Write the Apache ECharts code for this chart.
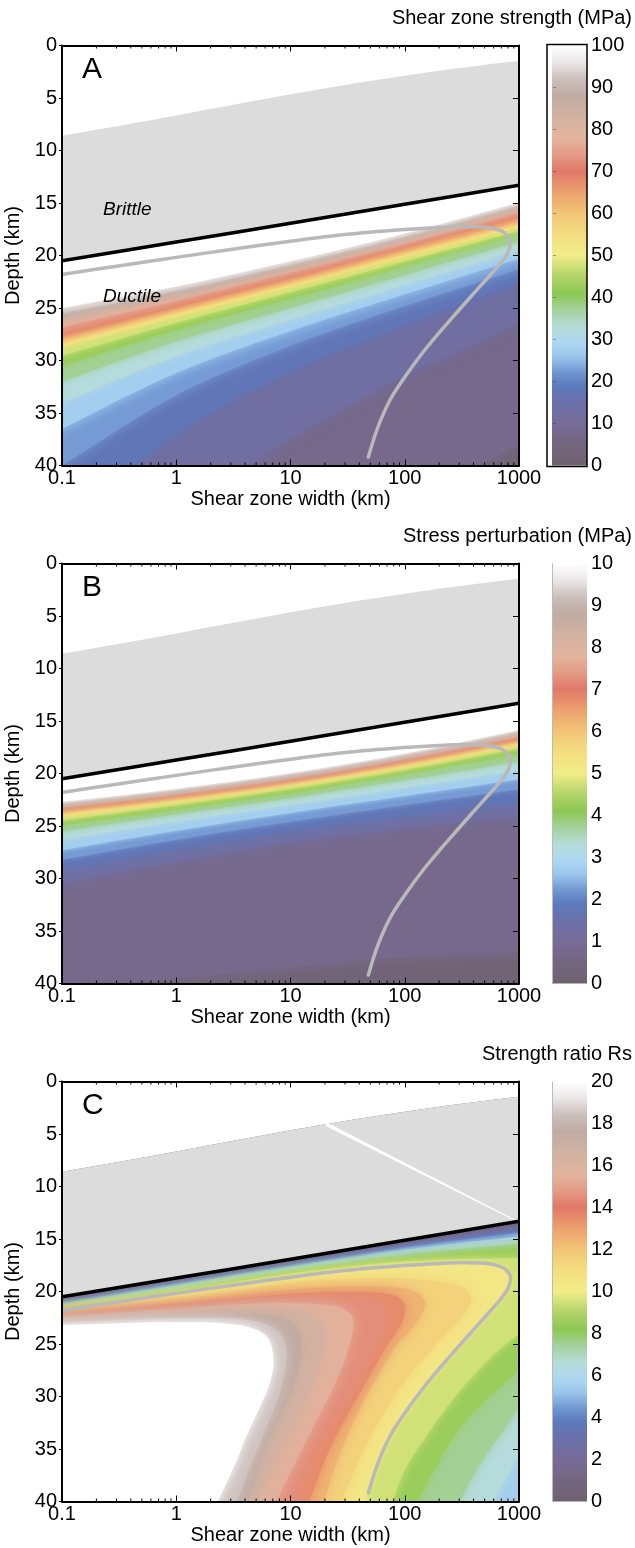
<!DOCTYPE html>
<html>
<head>
<meta charset="utf-8">
<script src="https://cdn.jsdelivr.net/npm/echarts@6/dist/echarts.min.js"></script>
<style>
html, body { margin: 0; padding: 0; background: #fff; }
#chart { width: 635px; height: 1548px; }
</style>
</head>
<body>
<div id="chart"></div>
<script>
// widths (km) at which the contour depths were read
var widths = [0.1, 1, 10, 100, 1000];

// brittle field: upper grey edge and brittle-ductile transition (depth km)
var topEdge = [[0.1, 8.6], [0.3, 7.68], [1, 6.66], [3, 5.7], [10, 4.65], [30, 3.76], [100, 2.88], [300, 2.15], [1000, 1.45]];
var bdt = [[0.1, 20.5], [1, 18.72], [10, 16.93], [100, 15.12], [1000, 13.3]];
// grey curve, same in all three panels
var greyCurve = [[0.1, 21.8], [0.3, 21.02], [1, 20.18], [3, 19.42], [10, 18.64], [30, 18.01], [100, 17.53], [200, 17.33],
  [350, 17.25], [550, 17.35], [720, 17.71], [820, 18.3], [845, 18.75], [805, 19.67], [703, 20.62], [541, 22.05],
  [404, 23.57], [288, 25.38], [206, 27.19], [145, 29.19], [101.5, 31.48], [74.3, 33.76], [57.8, 36.43], [48, 39.19]];
// white line in panel C
var whiteDiag = [[20.5, 4.05], [1000, 13.4]];

// panel A: shear zone strength (MPa), depth of each contour at the widths above
var levelsA = [5, 10, 15, 20, 25, 30, 35, 40, 45, 50, 55, 60, 65, 70, 75, 80, 85, 90, 95];
var depthsA = [
  [72, 60, 51, 44, 38],
  [56, 45, 37.5, 31.5, 26.5],
  [46, 37.0, 31.0, 26.6, 22.6],
  [40.0, 33.3, 28.6, 24.8, 21.3],
  [36.5, 31.2, 27.2, 23.7, 20.3],
  [34.0, 29.6, 26.1, 22.8, 19.5],
  [32.0, 28.2, 25.0, 21.85, 18.7],
  [30.5, 27.1, 24.1, 21.0, 18.0],
  [29.55, 26.4, 23.5, 20.55, 17.65],
  [28.7, 25.8, 23.0, 20.15, 17.3],
  [28.3, 25.45, 22.7, 19.8, 17.0],
  [28.0, 25.2, 22.45, 19.6, 16.75],
  [27.7, 24.95, 22.2, 19.3, 16.45],
  [27.3, 24.6, 21.9, 19.0, 16.1],
  [26.8, 24.3, 21.6, 18.85, 15.85],
  [26.3, 23.95, 21.35, 18.6, 15.6],
  [25.9, 23.65, 21.1, 18.4, 15.4],
  [25.5, 23.35, 20.85, 18.2, 15.2],
  [25.0, 22.95, 20.55, 17.9, 14.95]
];

// panel B: stress perturbation (MPa)
var levelsB = [0.5, 1, 1.5, 2, 2.5, 3, 3.5, 4, 4.5, 5, 5.5, 6, 6.5, 7, 7.5, 8, 8.5, 9, 9.5];
var depthsB = [
  [40.5, 39.5, 38.5, 37.5, 37],
  [30.5, 28.4, 26.6, 25.2, 24.1],
  [29.2, 27.2, 25.5, 24.0, 22.7],
  [28.2, 26.3, 24.6, 23.0, 21.5],
  [27.3, 25.45, 23.75, 22.15, 20.55],
  [26.3, 24.6, 23.0, 21.35, 19.7],
  [25.5, 23.9, 22.35, 20.65, 18.85],
  [24.9, 23.4, 21.85, 20.05, 18.1],
  [24.45, 23.0, 21.45, 19.65, 17.6],
  [24.1, 22.75, 21.2, 19.4, 17.3],
  [23.85, 22.55, 21.0, 19.2, 17.1],
  [23.65, 22.35, 20.85, 19.0, 16.9],
  [23.45, 22.2, 20.7, 18.85, 16.75],
  [23.3, 22.05, 20.6, 18.75, 16.6],
  [23.2, 21.95, 20.45, 18.6, 16.45],
  [23.1, 21.85, 20.35, 18.5, 16.3],
  [23.0, 21.75, 20.25, 18.4, 16.15],
  [22.85, 21.6, 20.1, 18.25, 16.0],
  [22.7, 21.45, 19.95, 18.1, 15.85]
];

// panel C: strength ratio Rs
// thin band under the transition
var levelsCstrip = [1, 2, 3, 4, 5];
var depthsCstrip = [
  [20.65, 18.85, 17.1, 15.25, 13.55],
  [20.8, 19.0, 17.25, 15.45, 13.8],
  [20.95, 19.15, 17.4, 15.65, 14.1],
  [21.1, 19.3, 17.55, 15.85, 14.4],
  [21.25, 19.45, 17.7, 16.05, 14.75]
];
// contours that leave the right edge and come back lower down
var levelsCsplit = [6, 7, 8, 9];
var depthsCsplitTop = [
  [21.4, 19.6, 17.85, 16.25, 15.1],
  [21.5, 19.75, 18.0, 16.5, 15.45],
  [21.6, 19.9, 18.15, 16.8, 15.85],
  [21.7, 20.05, 18.3, 17.15, 16.8]
];
var pathsCsplitRight = [
  [[1000, 35.5], [800, 37.5], [600, 40]],
  [[1000, 31], [700, 33.5], [450, 36.5], [300, 40]],
  [[1000, 27.5], [700, 29], [490, 30.5], [300, 33], [180, 37], [130, 40]],
  [[1000, 24], [600, 26], [300, 29.5], [160, 33.5], [100, 37], [78, 40]]
];
// contour 10 follows the grey curve; the rest bend down to the bottom
var levelsCcorner = [11, 12, 13, 14, 15, 16, 17, 18, 19];
var pathsCcorner = [
  [[0.1, 21.95], [1, 20.9], [10, 19.2], [40, 18.8], [150, 18.9], [320, 19.6], [380, 20.7], [320, 22.3], [190, 25], [100, 28.5], [58, 32.5], [38, 36.5], [28, 40]],
  [[0.1, 22.05], [1, 21.05], [10, 19.8], [40, 19.5], [110, 19.8], [150, 20.9], [130, 22.8], [80, 25.5], [46, 30], [28, 35], [19.5, 40]],
  [[0.1, 22.15], [1, 21.2], [10, 20.2], [40, 20.05], [80, 20.35], [100, 21.3], [95, 22.9], [67, 25.5], [39, 30], [22, 35], [14.6, 40]],
  [[0.1, 22.3], [1, 21.35], [7, 20.7], [27, 20.6], [53, 20.9], [68, 21.8], [67, 23.2], [53, 25.6], [35, 29.4], [19.4, 33.8], [13.8, 37], [11, 40]],
  [[0.1, 22.45], [1, 21.65], [7, 21.1], [25, 21.4], [35, 22.5], [33, 25], [24, 29], [14, 34], [7.5, 40]],
  [[0.1, 22.6], [1, 22.0], [7, 21.6], [16, 22.2], [20, 24], [18, 27], [13, 31], [8.5, 35], [5.2, 40]],
  [[0.1, 22.75], [1, 22.3], [6, 22.2], [11, 23.2], [12.5, 25.5], [11, 28.5], [8.5, 31.5], [6, 35], [4.2, 40]],
  [[0.1, 22.95], [1, 22.6], [4, 22.7], [7.5, 23.6], [9.2, 25.5], [8.8, 28], [7.3, 31], [5.6, 34], [4.3, 37], [3.4, 40]],
  [[0.1, 23.2], [1, 22.9], [3.6, 23.2], [6.2, 24.3], [7.1, 26.5], [6.6, 28.7], [5.4, 31], [4.1, 33.8], [3.2, 36.7], [2.3, 40]]
];

var cbTitles = ['Shear zone strength (MPa)', 'Stress perturbation (MPa)', 'Strength ratio Rs'];
var cbMax = [100, 10, 20];
var cbStep = [10, 1, 2];
var letters = ['A', 'B', 'C'];

// colour scale, 0 = bottom of the bar
var cmapStops = [
  [0, '#6e626e'], [0.05, '#736680'], [0.10, '#786b98'], [0.15, '#6a70aa'], [0.19, '#5c7abd'],
  [0.22, '#6f94d0'], [0.26, '#9cc5ec'], [0.29, '#acd6f2'], [0.33, '#b6dcd9'], [0.37, '#a5d19e'],
  [0.41, '#8dc853'], [0.45, '#b0d468'], [0.50, '#f1ed88'], [0.55, '#f4de80'], [0.60, '#f2c576'],
  [0.65, '#eca16e'], [0.70, '#e17868'], [0.74, '#e49b86'], [0.78, '#e3b49e'], [0.83, '#d2b2a1'],
  [0.88, '#c0aba2'], [0.92, '#cbbfbb'], [0.96, '#ebe7e8'], [1, '#ffffff']
];

var FONT = '"Liberation Sans", Arial, Helvetica, sans-serif';
var TOPS = [45.5, 563.5, 1081.5];
var XL = 0.05, XR = 2000, YT = -3, YB = 43;

function cmap(t) {
  t = Math.max(0, Math.min(1, t));
  for (var k = 1; k < cmapStops.length; k++) {
    if (t <= cmapStops[k][0]) {
      var a = cmapStops[k - 1], b = cmapStops[k];
      var f = (t - a[0]) / (b[0] - a[0]);
      var ca = echarts.color.parse(a[1]), cb = echarts.color.parse(b[1]);
      var c = [0, 1, 2].map(function (j) { return Math.round(ca[j] + (cb[j] - ca[j]) * f); });
      return 'rgb(' + c.join(',') + ')';
    }
  }
  return '#ffffff';
}

function toPath(ds) {
  return widths.map(function (w, i) { return [w, ds[i]]; });
}
function last(a, k) { return a[a.length - 1 - (k || 0)]; }
function lg(w) { return Math.log(w) / Math.LN10; }
// carry a contour on past the plot edge, straight in log-width space
function extX(p0, p1, w) {
  var t = (lg(w) - lg(p0[0])) / (lg(p0[0]) - lg(p1[0]));
  return [w, p0[1] + (p0[1] - p1[1]) * t];
}
function extY(p0, p1, d) {
  var t = (d - p0[1]) / (p0[1] - p1[1]);
  return [Math.pow(10, lg(p0[0]) + (lg(p0[0]) - lg(p1[0])) * t), d];
}

// closed polygons, padded outside the plot so the clip hides the joins
function polyAbove(path) {
  return [extX(path[0], path[1], XL)].concat(path, [extX(last(path), last(path, 1), XR), [XR, YT], [XL, YT]]);
}
function polyBelow(path) {
  return [extX(path[0], path[1], XL)].concat(path, [extX(last(path), last(path, 1), XR), [XR, YB], [XL, YB]]);
}
function polyCorner(path) {
  var e = extY(last(path), last(path, 1), YB);
  return [extX(path[0], path[1], XL)].concat(path, [e, [XL, YB]]);
}
function polySplit(top, right) {
  var e = extY(last(right), last(right, 1), YB);
  return [extX(top[0], top[1], XL)].concat(top, [extX(last(top), last(top, 1), XR), extX(right[0], right[1], XR)], right, [e, [XL, YB]]);
}
var fullPoly = [[XL, YT], [XR, YT], [XR, YB], [XL, YB]];

function bandColor(level, step, max, isTop) {
  return isTop ? '#ffffff' : cmap((level + step / 2) / max);
}

var regionsA = [{ poly: fullPoly, color: cmap(2.5 / 100), blur: 0 }].concat(levelsA.map(function (L, k) {
  return { poly: polyAbove(toPath(depthsA[k])), color: bandColor(L, 5, 100, k === levelsA.length - 1), blur: L <= 25 ? 12 : 6 };
}));
var regionsB = [{ poly: fullPoly, color: cmap(0.025), blur: 0 }].concat(levelsB.map(function (L, k) {
  return { poly: polyAbove(toPath(depthsB[k])), color: bandColor(L, 0.5, 10, k === levelsB.length - 1), blur: L <= 1.5 ? 14 : 5 };
}));
var regionsC = [{ poly: fullPoly, color: cmap(0.5 / 20), blur: 0 }]
  .concat(levelsCstrip.map(function (L, k) {
    return { poly: polyBelow(toPath(depthsCstrip[k])), color: bandColor(L, 1, 20), blur: 2 };
  }))
  .concat(levelsCsplit.map(function (L, k) {
    return { poly: polySplit(toPath(depthsCsplitTop[k]), pathsCsplitRight[k]), color: bandColor(L, 1, 20), blur: 10 };
  }))
  .concat([{ poly: polyCorner(greyCurve.concat([[46, 40]])), color: bandColor(10, 1, 20), blur: 10 }])
  .concat(levelsCcorner.map(function (L, k) {
    return { poly: polyCorner(pathsCcorner[k]), color: bandColor(L, 1, 20, k === levelsCcorner.length - 1), blur: 12 };
  }));
var regions = [regionsA, regionsB, regionsC];

var overlays = [
  { poly: polyAbove(topEdge), color: '#ffffff', blur: 0 },
  { poly: [extX(topEdge[0], topEdge[1], XL)].concat(topEdge, [extX(last(topEdge), last(topEdge, 1), XR), extX(last(bdt), last(bdt, 1), XR)],
      bdt.slice().reverse(), [extX(bdt[0], bdt[1], XL)]), color: '#dcdcdc', blur: 0 }
];

var minorTicks = [];
[0.1, 1, 10, 100].forEach(function (d) {
  for (var k = 2; k <= 9; k++) minorTicks.push(+(k * d).toPrecision(3));
});

function polyItem(list) {
  return function (params, api) {
    var r = list[params.dataIndex];
    var pts = r.poly.map(function (p) { return api.coord(p); });
    var style = { fill: r.color };
    if (r.blur) { style.shadowBlur = r.blur; style.shadowColor = r.color; }
    return { type: 'polygon', shape: { points: pts, smooth: 0.33 }, style: style, silent: true };
  };
}
function curveItem(pts, color, width) {
  return function (params, api) {
    return {
      type: 'polyline', silent: true,
      shape: { points: pts.map(function (p) { return api.coord(p); }), smooth: 0.33 },
      style: { stroke: color, lineWidth: width, fill: 'none', lineCap: 'round', lineJoin: 'round' }
    };
  };
}

var grid = [], xAxis = [], yAxis = [], series = [], title = [];
var textBase = { color: '#000', fontFamily: FONT, fontWeight: 'normal' };

for (var p = 0; p < 3; p++) {
  var T = TOPS[p];
  grid.push({ left: 62, top: T, width: 457, height: 420, containLabel: false, outerBoundsMode: 'none' });
  grid.push({ left: 552, top: T, width: 35, height: 420, containLabel: false, outerBoundsMode: 'none' });

  var frame = { show: true, onZero: false, lineStyle: { color: '#000', width: 2 } };
  xAxis.push({
    gridIndex: 2 * p, type: 'log', logBase: 10, min: 0.1, max: 1000, position: 'bottom', z: 10,
    axisLine: frame, splitLine: { show: false },
    axisTick: { inside: true, length: 6, lineStyle: { color: '#000', width: 1 } },
    axisLabel: { color: '#000', fontSize: 20, fontFamily: FONT, margin: 3,
      formatter: function (v) { return v < 1 ? (+v).toFixed(1) : String(Math.round(v)); } },
    name: 'Shear zone width (km)', nameLocation: 'middle', nameGap: 21,
    nameTextStyle: { color: '#000', fontSize: 20, fontFamily: FONT }
  });
  xAxis.push({
    gridIndex: 2 * p, type: 'log', logBase: 10, min: 0.1, max: 1000, position: 'top', z: 10,
    axisLine: frame, splitLine: { show: false }, axisLabel: { show: false },
    axisTick: { inside: true, length: 6, lineStyle: { color: '#000', width: 1 } }
  });
  xAxis.push({ gridIndex: 2 * p + 1, type: 'value', min: 0, max: 1, show: false });

  yAxis.push({
    gridIndex: 2 * p, type: 'value', inverse: true, min: 0, max: 40, interval: 5, position: 'left', z: 10,
    axisLine: frame, splitLine: { show: false },
    axisTick: { inside: false, length: 3, lineStyle: { color: '#000', width: 1 } },
    axisLabel: { color: '#000', fontSize: 20, fontFamily: FONT, margin: 5 },
    name: 'Depth (km)', nameLocation: 'middle', nameGap: 34, nameRotate: 90,
    nameTextStyle: { color: '#000', fontSize: 20, fontFamily: FONT }
  });
  yAxis.push({
    gridIndex: 2 * p, type: 'value', inverse: true, min: 0, max: 40, interval: 5, position: 'right', z: 10,
    axisLine: frame, splitLine: { show: false }, axisLabel: { show: false },
    axisTick: { inside: true, length: 6, lineStyle: { color: '#000', width: 1 } }
  });
  yAxis.push({
    gridIndex: 2 * p + 1, type: 'value', min: 0, max: cbMax[p], interval: cbStep[p], position: 'right',
    axisLine: { show: false }, axisTick: { show: false }, splitLine: { show: false },
    axisLabel: { color: '#000', fontSize: 20, fontFamily: FONT, margin: 4 }
  });

  var xi = 3 * p, yi = 3 * p;
  // colour field
  series.push({
    type: 'custom', xAxisIndex: xi, yAxisIndex: yi, clip: true, silent: true, z: 2,
    data: regions[p].map(function () { return [1, 20]; }),
    renderItem: polyItem(regions[p])
  });
  // brittle field overlays
  series.push({
    type: 'custom', xAxisIndex: xi, yAxisIndex: yi, clip: true, silent: true, z: 3,
    data: overlays.map(function () { return [1, 5]; }),
    renderItem: polyItem(overlays)
  });
  if (p === 2) {
    series.push({
      type: 'custom', xAxisIndex: xi, yAxisIndex: yi, clip: true, silent: true, z: 3,
      data: [[1, 5]],
      renderItem: function (params, api) {
        var a = api.coord(whiteDiag[0]), b = api.coord(whiteDiag[1]);
        var dx = b[0] - a[0], dy = b[1] - a[1], len = Math.sqrt(dx * dx + dy * dy);
        var nx = -dy / len, ny = dx / len;
        return {
          type: 'polygon', silent: true,
          shape: { points: [[a[0] + nx * 1.8, a[1] + ny * 1.8], [b[0] + nx * 0.5, b[1] + ny * 0.5],
            [b[0] - nx * 0.5, b[1] - ny * 0.5], [a[0] - nx * 1.8, a[1] - ny * 1.8]] },
          style: { fill: '#ffffff' }
        };
      }
    });
  }
  // brittle-ductile transition and grey curve
  series.push({
    type: 'custom', xAxisIndex: xi, yAxisIndex: yi, clip: true, silent: true, z: 4,
    data: [[1, 20]], renderItem: curveItem(bdt, '#000', 3.5)
  });
  series.push({
    type: 'custom', xAxisIndex: xi, yAxisIndex: yi, clip: true, silent: true, z: 4,
    data: [[1, 20]], renderItem: curveItem(greyCurve, '#b9b9b9', 3.5)
  });
  // minor log ticks, top and bottom
  series.push({
    type: 'custom', xAxisIndex: xi, yAxisIndex: yi, silent: true, z: 11,
    data: minorTicks.map(function (w) { return [w, 0]; }),
    renderItem: function (params, api) {
      var w = api.value(0);
      var pb = api.coord([w, 40]), pt = api.coord([w, 0]);
      return {
        type: 'group', children: [
          { type: 'line', shape: { x1: pb[0], y1: pb[1], x2: pb[0], y2: pb[1] - 3 }, style: { stroke: '#000', lineWidth: 1 } },
          { type: 'line', shape: { x1: pt[0], y1: pt[1], x2: pt[0], y2: pt[1] + 3 }, style: { stroke: '#000', lineWidth: 1 } }
        ]
      };
    }
  });
  // colour bar
  (function (pi) {
    series.push({
      type: 'custom', xAxisIndex: 3 * pi + 2, yAxisIndex: 3 * pi + 2, silent: true, z: 2,
      data: [[0.5, 0]],
      renderItem: function (params, api) {
        var a = api.coord([0, cbMax[pi]]), b = api.coord([1, 0]);
        var stops = cmapStops.map(function (s) { return { offset: s[0], color: s[1] }; });
        var children = [{
          type: 'rect', shape: { x: a[0], y: a[1], width: b[0] - a[0], height: b[1] - a[1] },
          style: { fill: new echarts.graphic.LinearGradient(0, 1, 0, 0, stops) }
        }];
        if (pi === 0) {
          children.push({
            type: 'rect', shape: { x: a[0] - 5, y: a[1] - 1, width: b[0] - a[0] + 5, height: b[1] - a[1] + 2 },
            style: { fill: 'none', stroke: '#000', lineWidth: 1.5 }
          });
          for (var v = cbStep[pi]; v < cbMax[pi]; v += cbStep[pi]) {
            var q = api.coord([0, v]);
            children.push({ type: 'line', shape: { x1: q[0] + 1, y1: q[1], x2: q[0] + 4, y2: q[1] },
              style: { stroke: 'rgba(60,60,60,0.45)', lineWidth: 1 } });
          }
        } else {
          children.push({
            type: 'line', shape: { x1: a[0] + 0.5, y1: a[1], x2: a[0] + 0.5, y2: b[1] },
            style: { stroke: '#bbbbbb', lineWidth: 1 }
          });
        }
        return { type: 'group', children: children };
      }
    });
  })(p);

  title.push({ text: letters[p], left: 82, top: T + 9.5, padding: 0, textStyle: Object.assign({ fontSize: 30 }, textBase) });
  title.push({ text: cbTitles[p], right: 3, top: T - 37.5, padding: 0, textStyle: Object.assign({ fontSize: 20 }, textBase) });
}

title.push({ text: 'Brittle', left: 103, top: 200, padding: 0, textStyle: Object.assign({ fontSize: 19, fontStyle: 'italic' }, textBase) });
title.push({ text: 'Ductile', left: 103, top: 287, padding: 0, textStyle: Object.assign({ fontSize: 19, fontStyle: 'italic' }, textBase) });

var chart = echarts.init(document.getElementById('chart'), null, { renderer: 'canvas' });
chart.setOption({
  animation: false,
  backgroundColor: '#ffffff',
  title: title,
  grid: grid,
  xAxis: xAxis,
  yAxis: yAxis,
  series: series
});
</script>
</body>
</html>
